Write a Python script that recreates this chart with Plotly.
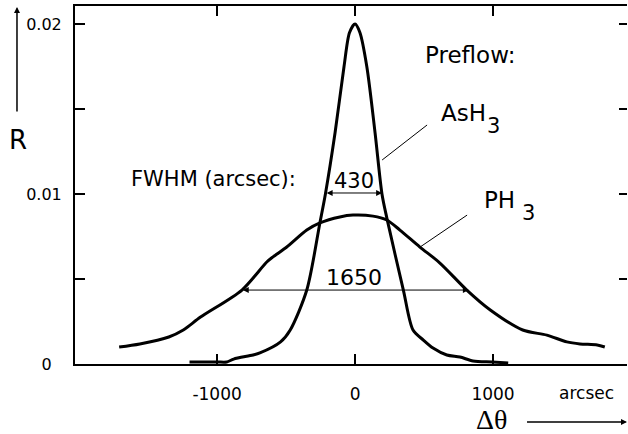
import plotly.graph_objects as go

# AsH3 rocking curve (delta theta in arcsec, reflectivity R)
ash3_x = [-1200, -1000, -930, -880, -740, -690, -540, -470, -350, -255, -215, -145, -80, -40,
          0, 35, 85, 145, 195, 230, 350, 420, 495, 565, 665, 760, 855, 995, 1110]
ash3_r = [0.00012, 0.00012, 0.00012, 0.00029, 0.00053, 0.00065, 0.0013, 0.0020, 0.00435, 0.0083,
          0.0100, 0.0136, 0.0175, 0.0195, 0.0200, 0.0195, 0.0175, 0.0136, 0.0100, 0.0086,
          0.00435, 0.0020, 0.00141, 0.00094, 0.00053, 0.00041, 0.00018, 0.00012, 0.00006]

# PH3 rocking curve
ph3_x = [-1710, -1560, -1350, -1245, -1120, -820, -640, -595, -495, -350, -255, -110, -15,
         130, 230, 325, 470, 615, 810, 980, 1215, 1390, 1535, 1630, 1755, 1810]
ph3_r = [0.00100, 0.00118, 0.00159, 0.0020, 0.00276, 0.00435, 0.0060, 0.0063, 0.00688, 0.00788,
         0.0083, 0.00865, 0.00876, 0.0087, 0.00847, 0.00788, 0.00688, 0.00594, 0.00435, 0.00318,
         0.0020, 0.0017, 0.0013, 0.00118, 0.00112, 0.001]

x_tickvals = [-1000, 0, 1000]
x_ticktext = ["-1000", "0", "1000"]
y_tickvals = [0, 0.005, 0.01, 0.015, 0.02]
y_ticktext = ["0\u00a0\u00a0", "", "0.01", "", "0.02"]

fwhm_ash3 = 430
fwhm_ph3 = 1650
half_ash3 = 0.01006
half_ph3 = 0.00435

FONT = "DejaVu Sans"
X_RANGE = [-2030, 1971]
Y_RANGE = [0, 0.02106]

fig = go.Figure()
fig.add_trace(go.Scatter(x=ash3_x, y=ash3_r, mode="lines",
                         line=dict(color="black", width=3, shape="spline", smoothing=0.8),
                         showlegend=False, hoverinfo="skip"))
fig.add_trace(go.Scatter(x=ph3_x, y=ph3_r, mode="lines",
                         line=dict(color="black", width=3, shape="spline", smoothing=0.8),
                         showlegend=False, hoverinfo="skip"))
# empty trace to activate the right-hand tick axis
fig.add_trace(go.Scatter(x=[None], y=[None], yaxis="y2", showlegend=False, hoverinfo="skip"))

ann = []
def txt(text, x, y, size, xref="x", yref="y", family=FONT, xanchor="center"):
    ann.append(dict(text=text, x=x, y=y, xref=xref, yref=yref, showarrow=False,
                    xanchor=xanchor, yanchor="middle",
                    font=dict(family=family, size=size, color="black")))

txt("Preflow:", 833, 0.01818, 23)
txt("AsH", 786, 0.014765, 23)
txt("3", 1000, 0.0140, 21)
txt("PH", 1047, 0.009647, 23)
txt("3", 1255, 0.008882, 21)
txt("FWHM (arcsec):", -1025, 0.010882, 21)
txt(str(fwhm_ash3), -7, 0.010794, 21)
txt(str(fwhm_ph3), -7, 0.005118, 22)
txt("arcsec", 1681, -0.081, 17, yref="paper")
txt("\u0394\u03b8", 986, -0.1564, 28, yref="paper", family="Liberation Serif")
txt("R", -0.104, 0.6257, 26, xref="paper", yref="paper")

# FWHM double arrows
ann.append(dict(x=196, y=half_ash3, ax=-217, ay=half_ash3,
                xref="x", yref="y", axref="x", ayref="y", text="",
                showarrow=True, arrowside="end+start", arrowhead=2,
                arrowsize=1.2, arrowwidth=1, arrowcolor="black"))
ann.append(dict(x=fwhm_ph3 / 2, y=half_ph3, ax=-fwhm_ph3 / 2, ay=half_ph3,
                xref="x", yref="y", axref="x", ayref="y", text="",
                showarrow=True, arrowside="end+start", arrowhead=2,
                arrowsize=1.2, arrowwidth=1, arrowcolor="black"))

# axis direction arrows
ann.append(dict(x=-0.1051, y=0.9972, xref="paper", yref="paper", ax=0, ay=106, text="",
                showarrow=True, arrowhead=2, arrowsize=0.8, arrowwidth=1.5, arrowcolor="black"))
ann.append(dict(x=1.01, y=-0.162, xref="paper", yref="paper", ax=-107, ay=0, text="",
                showarrow=True, arrowhead=2, arrowsize=0.8, arrowwidth=1.5, arrowcolor="black"))

shapes = [
    dict(type="line", xref="x", yref="y", x0=196, y0=0.0120, x1=522, y1=0.01406,
         line=dict(color="black", width=1)),
    dict(type="line", xref="x", yref="y", x0=471, y0=0.00688, x1=812, y1=0.00876,
         line=dict(color="black", width=1)),
]

fig.update_layout(
    width=628, height=434,
    margin=dict(l=75, r=1, t=6, b=70, autoexpand=False),
    paper_bgcolor="white", plot_bgcolor="white",
    annotations=ann, shapes=shapes,
    xaxis=dict(range=X_RANGE, tickvals=x_tickvals, ticktext=x_ticktext, automargin=False,
               ticks="inside", ticklen=10, tickwidth=2, tickcolor="black",
               showline=True, linewidth=2, linecolor="black", mirror="ticks",
               showgrid=False, zeroline=False, ticklabelstandoff=14,
               tickfont=dict(family=FONT, size=17, color="black")),
    yaxis=dict(range=Y_RANGE, tickvals=y_tickvals, ticktext=y_ticktext, automargin=False,
               ticks="inside", ticklen=10, tickwidth=2, tickcolor="black",
               showline=True, linewidth=2, linecolor="black", mirror=False,
               showgrid=False, zeroline=False, ticklabelstandoff=8,
               tickfont=dict(family=FONT, size=16, color="black")),
    yaxis2=dict(range=Y_RANGE, overlaying="y", side="right", tickvals=y_tickvals,
                automargin=False,
                ticks="inside", ticklen=8, tickwidth=2, tickcolor="black",
                showticklabels=False, showline=False, showgrid=False, zeroline=False),
)

fig.write_html("out.html", config={"displayModeBar": False},
               post_script="document.body.style.margin='0px';document.body.style.padding='0px';")
